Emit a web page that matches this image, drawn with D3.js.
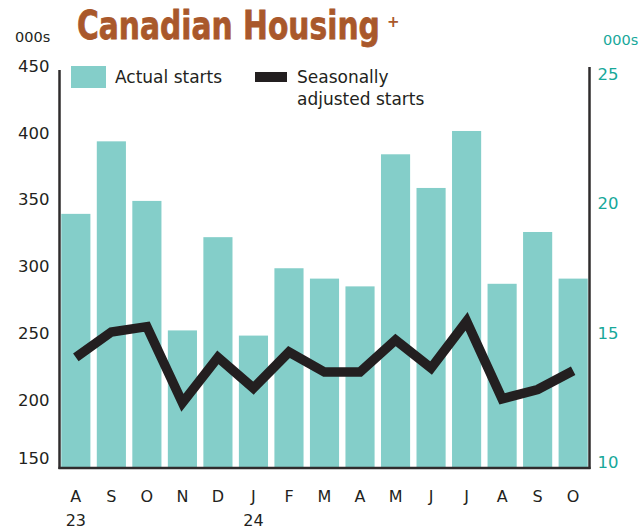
<!DOCTYPE html>
<html>
<head>
<meta charset="utf-8">
<script src="https://cdn.jsdelivr.net/npm/d3@7/dist/d3.min.js"></script>
<style>
  html, body { margin: 0; padding: 0; background: #fff; }
  svg { display: block; }
  text { font-family: "DejaVu Sans", sans-serif; }
</style>
</head>
<body>
<svg id="chart" width="640" height="529"></svg>
<script>
// ---- data ----
const months = ["A","S","O","N","D","J","F","M","A","M","J","J","A","S","O"];
const years  = ["23","","","","","24","","","","","","","","",""];
const actualStarts = [19.6, 22.4, 20.1, 15.1, 18.7, 14.9, 17.5, 17.1, 16.8, 21.9, 20.6, 22.8, 16.9, 18.9, 17.1]; // 000s, right axis
const seasonallyAdjusted = [232, 251, 255, 198, 232, 209, 236, 221, 221, 245, 224, 259, 201, 208, 222]; // 000s, left axis
const leftTicks = [150, 200, 250, 300, 350, 400, 450];
const rightTicks = [10, 15, 20, 25];

(function () {
// ---- styles ----
const barColor = "#84cec9";
const lineColor = "#231f20";
const teal = "#17a89a";
const titleColor = "#a9582b";
const axisColor = "#2f2c2d";

const svg = d3.select("#chart");
const pLeft = 59.5, pRight = 589.5, pBottom = 467, pTop = 66;

const x = d3.scaleBand().domain(d3.range(months.length))
  .range([pLeft, pRight]).paddingInner(0.18).paddingOuter(0.05);
const yL = d3.scaleLinear().domain([150, 450]).range([pBottom, pTop]);
const yR = d3.scaleLinear().domain([10, 25]).range([462.5, 74]);

// bars
svg.append("g").selectAll("rect").data(actualStarts).join("rect")
  .attr("x", (d, i) => x(i))
  .attr("width", x.bandwidth())
  .attr("y", d => yR(d))
  .attr("height", d => pBottom - yR(d))
  .attr("fill", barColor);

// line
const line = d3.line()
  .x((d, i) => x(i) + x.bandwidth() / 2)
  .y(d => yL(d));
svg.append("path").datum(seasonallyAdjusted)
  .attr("d", line)
  .attr("fill", "none")
  .attr("stroke", lineColor)
  .attr("stroke-width", 9.5)
  .attr("stroke-linejoin", "miter")
  .attr("stroke-miterlimit", 10)
  .attr("stroke-linecap", "butt");

// left axis
const gL = svg.append("g").attr("transform", `translate(${pLeft},0)`)
  .call(d3.axisLeft(yL).tickValues(leftTicks).tickSize(0).tickPadding(10));
gL.select(".domain").remove();
gL.selectAll("text").attr("font-size", 16.5).attr("fill", "#231f20")
  .attr("font-family", "DejaVu Sans, sans-serif")
  .attr("dy", d => d === 150 ? "-0.2em" : "0.32em");

// right axis
const gR = svg.append("g").attr("transform", `translate(${pRight + 8},0)`)
  .call(d3.axisRight(yR).tickValues(rightTicks).tickSize(0).tickPadding(0));
gR.select(".domain").remove();
gR.selectAll("text").attr("font-size", 16.5).attr("fill", teal)
  .attr("font-family", "DejaVu Sans, sans-serif");

// bottom axis
const gB = svg.append("g").attr("transform", `translate(0,${pBottom})`)
  .call(d3.axisBottom(x).tickFormat(i => months[i]).tickSize(0).tickPadding(24));
gB.select(".domain").remove();
gB.selectAll("text").attr("font-size", 16).attr("fill", "#231f20")
  .attr("font-family", "DejaVu Sans, sans-serif");
gB.selectAll(".tick").append("text")
  .attr("y", 59).attr("fill", "#231f20").attr("font-size", 16)
  .attr("text-anchor", "middle")
  .text(i => years[i]);

// axis frame lines
svg.append("line").attr("x1", pLeft).attr("x2", pLeft).attr("y1", 70).attr("y2", pBottom + 2)
  .attr("stroke", axisColor).attr("stroke-width", 2.5);
svg.append("line").attr("x1", pRight).attr("x2", pRight).attr("y1", 67).attr("y2", pBottom + 2)
  .attr("stroke", axisColor).attr("stroke-width", 2.5);
svg.append("line").attr("x1", pLeft - 1).attr("x2", pRight + 1).attr("y1", pBottom + 1).attr("y2", pBottom + 1)
  .attr("stroke", axisColor).attr("stroke-width", 2.5);

// unit labels
svg.append("text").attr("x", 15).attr("y", 42).attr("font-size", 14.5)
  .attr("fill", "#231f20").text("000s");
svg.append("text").attr("x", 603).attr("y", 45).attr("font-size", 14.5)
  .attr("fill", teal).text("000s");

// title: natural glyphs horizontally scaled to the reference width
const titleText = svg.append("text")
  .attr("font-family", "'Liberation Sans Narrow', 'DejaVu Sans Condensed', sans-serif")
  .attr("font-weight", "bold").attr("font-size", 39)
  .attr("fill", titleColor).attr("stroke", titleColor).attr("stroke-width", 0.8)
  .text("Canadian Housing");
const natural = titleText.node().getComputedTextLength() || 305;
const sx = 303 / natural;
titleText.attr("transform", `translate(77,39) scale(${sx},1)`);
svg.append("text").attr("x", 387).attr("y", 27)
  .attr("font-family", "'DejaVu Sans Condensed', sans-serif")
  .attr("font-weight", "bold").attr("font-size", 15)
  .attr("fill", titleColor).text("+");

// legend
svg.append("rect").attr("x", 71).attr("y", 66).attr("width", 35).attr("height", 22).attr("fill", barColor);
svg.append("text").attr("x", 115).attr("y", 83).attr("font-size", 17).attr("fill", "#231f20").text("Actual starts");
svg.append("rect").attr("x", 255).attr("y", 72).attr("width", 32).attr("height", 10).attr("fill", lineColor);
svg.append("text").attr("x", 297).attr("y", 83).attr("font-size", 17).attr("fill", "#231f20").text("Seasonally");
svg.append("text").attr("x", 297).attr("y", 105).attr("font-size", 17).attr("fill", "#231f20").text("adjusted starts");
})();
</script>
</body>
</html>
